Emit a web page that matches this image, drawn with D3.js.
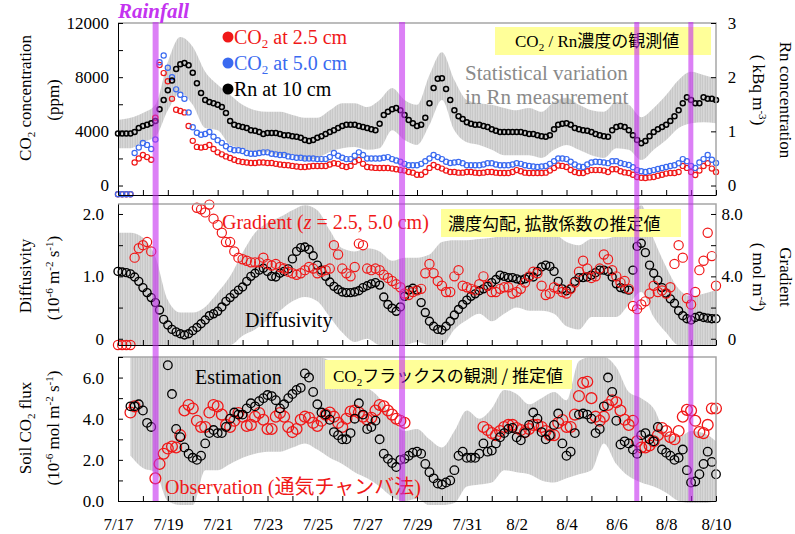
<!DOCTYPE html>
<html>
<head>
<meta charset="utf-8">
<script src="https://cdn.jsdelivr.net/npm/d3@7/dist/d3.min.js"></script>
<style>
  body { margin: 0; background: #fff; }
  text { white-space: pre; }
</style>
</head>
<body>
<div id="chart"></div>
<script>
// sampling: values every 4 hours, days counted from 7/17 0:00
const step = 1 / 6;
const bandStep = 0.5;

const dateLabels = ["7/17", "7/19", "7/21", "7/23", "7/25", "7/27", "7/29",
                    "7/31", "8/2", "8/4", "8/6", "8/8", "8/10"];

// rainfall periods (days)
const rainStart = [1.39, 11.28, 20.72, 22.89];
const rainEnd   = [1.63, 11.52, 20.92, 23.09];

// CO2 (ppm), -650 = missing values drawn on the axis
const co2At25 = [-650,-650,-650,-650,1700,2000,2250,2100,1900,5000,
  8900,8300,7700,6400,5600,5500,5400,4400,3300,2850,
  2800,2850,3000,2700,2450,2300,2150,2030,1900,1800,
  1740,1700,1660,1660,1700,1700,1660,1660,1600,1550,
  1520,1500,1450,1400,1370,1370,1400,1440,1440,1440,
  1440,1550,1650,1600,1450,1370,1450,1750,1880,1600,
  1370,1330,1300,1290,1290,1290,1250,1200,1140,1100,
  1000,950,800,800,1000,1300,1510,1370,1250,1100,
  1000,1000,950,950,1000,1000,950,920,950,1000,
  1000,950,920,920,920,1000,1140,1050,950,920,
  920,920,920,950,1100,1290,1480,1450,1370,1150,
  1000,920,920,1050,1140,1140,1140,1100,1000,1200,
  1200,1050,970,920,800,630,570,550,600,630,
  720,800,880,920,920,1000,1450,1300,1000,780,
  1100,1440,1650,1250,1000];

const co2At50 = [-650,-650,-650,-650,2400,2800,3140,3000,2700,3400,
  9100,9600,8700,8000,7100,6700,6400,5400,4300,3900,
  3750,3800,3950,3600,3350,3150,2900,2700,2600,2600,
  2550,2400,2350,2350,2400,2450,2450,2350,2300,2250,
  2250,2150,2100,2050,2050,2000,2000,2000,1950,1950,
  1950,2100,2400,2200,2050,1950,1950,2200,2450,2250,
  2000,2000,2000,2000,2050,2100,1950,1850,1750,1600,
  1500,1500,1500,1600,1800,2000,2250,2100,1950,1750,
  1660,1700,1740,1650,1500,1500,1500,1500,1550,1650,
  1650,1550,1500,1500,1500,1550,1650,1600,1500,1450,
  1400,1370,1400,1440,1600,1800,2000,2000,1950,1750,
  1550,1400,1370,1550,1700,1750,1740,1700,1650,1800,
  1800,1660,1580,1510,1350,1140,1050,1000,1070,1140,
  1220,1290,1370,1440,1500,1650,1950,1800,1450,1290,
  1700,1950,2250,1900,1660];

// Rn at 10 cm (kBq m-3)
const rn10 = [0.96,0.96,0.96,0.96,0.99,1.06,1.10,1.12,1.15,1.19,
  1.41,1.58,1.76,1.94,2.15,2.24,2.26,2.22,2.08,1.89,
  1.71,1.58,1.54,1.52,1.49,1.45,1.34,1.19,1.12,1.10,
  1.08,1.06,1.02,1.01,0.99,0.95,0.97,0.97,0.97,0.95,
  0.93,0.93,0.91,0.90,0.88,0.84,0.82,0.84,0.88,0.91,
  0.95,0.99,1.02,1.06,1.10,1.12,1.12,1.12,1.10,1.08,
  1.06,1.04,1.02,1.14,1.30,1.36,1.41,1.43,1.39,1.30,
  1.21,1.15,1.10,1.12,1.25,1.52,1.80,1.97,1.98,1.78,
  1.58,1.39,1.28,1.23,1.17,1.14,1.12,1.12,1.10,1.08,
  1.04,1.01,0.99,0.99,0.99,0.99,0.99,0.99,0.97,0.95,
  0.95,0.93,0.91,0.90,0.93,1.04,1.12,1.14,1.15,1.12,
  1.06,1.04,1.02,1.01,0.99,0.95,0.93,0.91,0.90,1.02,
  1.08,1.10,1.08,1.02,0.93,0.84,0.78,0.82,0.91,0.99,
  1.04,1.08,1.12,1.19,1.28,1.39,1.52,1.63,1.58,1.52,
  1.52,1.63,1.60,1.60,1.58];

// statistical variation of Rn (12-hour steps)
const rnLow = [0.69,0.69,0.80,0.90,1.39,1.71,1.49,1.06,1.02,0.75,0.69,0.62,0.62,0.56,0.56,0.47,0.51,
  0.62,0.69,0.71,0.66,0.69,1.02,0.84,0.75,1.12,1.58,1.02,0.80,0.75,0.66,0.56,0.56,0.56,0.51,
  0.66,0.75,0.66,0.56,0.51,0.69,0.66,0.47,0.66,0.84,1.06,1.15,1.17,1.15];
const rnHigh = [1.21,1.25,1.34,1.49,2.28,2.74,2.56,2.10,1.86,1.67,1.49,1.39,1.36,1.36,1.30,1.25,1.25,
  1.39,1.52,1.52,1.45,1.58,1.80,1.58,1.49,2.04,2.46,1.95,1.58,1.52,1.49,1.43,1.39,1.43,1.36,
  1.54,1.62,1.49,1.39,1.36,1.54,1.49,1.26,1.43,1.67,1.95,2.10,2.04,1.98];

// diffusivity (10-6 m2 s-1)
const diffusivity = [1.08,1.07,1.06,1.04,0.99,0.92,0.82,0.74,0.66,0.58,
  0.46,0.31,0.22,0.15,0.11,0.08,0.06,0.08,0.13,0.18,
  0.24,0.30,0.37,0.40,0.44,0.51,0.60,0.66,0.72,0.78,
  0.83,0.92,1.00,1.05,1.10,1.13,1.08,1.00,0.99,1.05,
  1.08,1.12,1.28,1.40,1.46,1.47,1.43,1.33,1.18,1.10,
  1.00,0.91,0.84,0.79,0.75,0.74,0.74,0.75,0.77,0.82,
  0.85,0.88,0.90,0.86,0.67,0.55,0.49,0.44,0.51,0.68,
  0.78,0.81,0.78,0.58,0.42,0.28,0.20,0.15,0.14,0.20,
  0.28,0.38,0.47,0.55,0.62,0.68,0.72,0.77,0.80,0.84,
  0.90,0.95,1.02,1.00,0.98,0.98,0.96,0.94,0.96,0.99,
  0.99,1.08,1.15,1.18,1.16,1.08,0.92,0.80,0.77,0.80,
  0.92,0.98,0.98,0.99,1.02,1.06,1.10,1.10,1.08,0.99,
  0.88,0.82,0.80,0.78,1.10,1.48,1.53,1.38,1.18,1.05,
  0.94,0.82,0.73,0.64,0.57,0.45,0.37,0.32,0.30,0.34,
  0.36,0.34,0.33,0.32,0.32];

const diffLow = [-0.1,-0.1,-0.1,-0.1,-0.1,-0.1,-0.1,-0.1,-0.1,-0.1,0.05,0.15,0.30,0.45,0.60,0.67,0.60,
  0.35,0.10,-0.05,0.00,-0.1,-0.1,-0.1,-0.05,-0.1,-0.1,0.15,0.30,0.40,0.28,0.40,0.50,0.45,0.45,
  0.40,0.20,0.15,0.35,0.35,0.35,0.55,0.75,0.35,0.10,-0.1,-0.1,-0.1,-0.1];
const diffHigh = [1.70,1.70,1.62,1.31,0.62,0.42,0.42,0.51,0.74,1.00,1.38,1.70,1.86,1.95,2.06,2.14,2.06,
  1.74,1.45,1.40,1.45,1.40,1.25,1.30,1.30,1.35,1.55,1.58,1.58,1.60,1.62,1.65,1.68,1.72,1.75,
  1.70,1.55,1.50,1.60,1.60,1.65,1.90,2.14,1.60,1.15,0.80,0.68,0.72,0.78];

// concentration gradient (mol m-4), -0.4 = missing values on the axis
const gradient = [-0.4,-0.4,-0.4,-0.4,5.2,5.8,6.0,6.2,5.6,null,
  null,null,null,null,null,null,null,null,null,8.4,
  8.3,8.1,8.6,7.7,7.3,6.8,6.2,6.2,5.6,5.2,
  5.1,5.0,4.9,4.9,4.9,5.2,4.8,4.7,4.8,4.6,
  4.5,4.3,4.2,4.1,4.2,4.4,4.6,4.5,4.2,4.3,
  4.4,4.5,6.0,5.4,4.5,4.2,4.0,4.6,6.1,6.0,
  4.5,4.4,4.5,4.4,4.1,3.9,3.7,3.5,3.3,2.9,
  2.8,3.0,3.1,3.2,4.2,4.8,4.2,3.7,3.4,3.0,
  3.0,4.0,4.4,3.4,3.3,3.2,3.1,3.5,4.0,3.4,
  3.0,3.0,3.2,3.3,3.3,2.9,3.0,3.2,3.6,4.0,
  4.3,4.2,3.4,2.8,2.9,3.3,3.2,3.0,2.9,3.2,
  3.6,4.3,5.0,4.5,3.9,4.0,4.5,5.4,5.1,4.4,
  4.0,3.6,3.7,3.2,2.1,1.9,2.2,2.4,2.9,3.4,
  3.0,3.1,2.9,3.3,4.8,6.0,5.2,2.6,2.2,3.0,
  4.4,5.0,6.8,5.3,3.4];

// soil CO2 flux (10-6 mol m-2 s-1)
const fluxEst = [null,null,null,4.6,4.6,4.7,4.4,3.8,3.6,null,
  null,null,6.6,5.2,3.5,3.1,2.6,2.3,2.1,2.0,
  2.2,2.8,3.3,3.45,3.3,3.3,3.6,4.0,4.3,4.2,
  4.2,4.5,4.75,4.6,4.85,5.0,5.15,5.1,4.9,4.5,
  4.7,5.0,5.2,5.4,5.5,6.2,6.0,5.3,4.7,4.3,
  4.2,3.95,3.35,3.2,3.0,3.0,3.3,4.0,4.75,4.2,
  3.5,3.6,3.9,3.0,2.3,2.05,1.85,1.65,2.0,2.05,
  2.2,2.35,2.4,2.3,1.8,1.4,1.1,0.85,0.8,0.9,
  1.0,1.5,2.2,2.4,2.1,2.1,2.1,2.3,2.8,2.4,
  2.45,2.8,3.1,3.3,3.5,3.55,3.1,2.95,3.3,3.7,
  4.3,4.0,3.35,3.0,3.2,3.7,4.25,2.8,2.2,2.4,
  3.3,4.2,4.25,4.2,4.0,3.3,3.5,4.6,6.0,5.3,
  3.9,2.75,2.9,2.8,2.5,2.3,3.2,3.3,3.0,2.9,
  3.6,2.5,2.35,2.2,2.0,2.1,2.5,1.5,0.9,0.95,
  1.3,1.8,2.4,1.9,1.3];

// estimation band, from day 0.5 in 12-hour steps
const fluxLow = [2.2,1.6,1.4,0.0,-0.2,-0.2,1.5,1.5,1.8,2.1,2.3,2.4,2.4,2.6,2.8,2.5,2.1,1.8,1.4,1.1,
  0.7,0.2,0.0,0.1,-0.2,-0.2,-0.1,0.7,0.8,0.9,1.5,1.4,1.3,1.0,0.9,1.1,1.3,1.5,2.8,1.8,
  1.2,0.9,0.7,0.4,0.0,-0.1,-0.1,0.0];
const fluxHigh = [7.0,7.0,7.0,7.0,7.0,7.0,7.0,7.0,7.0,7.0,7.0,7.0,7.0,7.0,7.0,7.0,6.8,6.2,5.8,5.5,
  5.0,4.0,3.4,3.5,3.0,2.6,3.4,4.4,4.0,4.5,5.4,5.2,4.7,5.0,5.3,4.9,6.8,7.0,7.0,6.5,
  5.3,5.0,4.5,3.3,3.1,3.4,3.3,2.9];

const fluxObs = [null,null,null,4.3,4.6,null,null,null,null,1.1,
  1.8,2.3,2.55,2.65,2.6,3.2,4.4,4.67,4.5,3.9,
  3.6,3.6,4.3,4.67,4.6,4.2,3.7,3.6,3.9,4.28,
  4.1,3.65,3.7,4.1,4.28,3.95,3.5,3.5,4.1,4.28,
  4.1,3.6,3.35,3.5,3.95,4.1,4.05,3.8,3.65,3.9,
  4.2,4.3,4.1,3.8,3.6,4.0,4.35,4.4,4.3,4.1,
  3.95,4.05,4.4,4.67,4.6,4.4,4.2,4.0,3.9,3.8,
  null,null,null,null,null,null,null,null,null,null,
  null,null,null,null,null,null,null,null,3.6,3.45,
  3.3,3.2,3.4,3.6,3.7,3.7,3.55,3.45,3.35,3.5,
  3.7,3.7,3.6,3.4,3.2,3.2,3.8,3.94,3.6,3.6,
  4.2,5.1,5.74,5.8,5.0,4.1,3.9,4.1,4.67,4.9,
  4.8,4.4,3.95,3.7,3.9,2.9,2.6,2.6,2.7,2.9,
  3.2,3.55,3.4,3.1,3.0,3.4,4.1,4.43,4.4,3.9,
  3.35,3.3,3.7,4.5,4.5];

const SERIF = '"Liberation Serif", "Times New Roman", serif';
const JP = '"Noto Sans CJK JP", sans-serif';
const RED = "#f01818", BLUE = "#3a6af0", GRAY = "#a6a6a6";

let svg = d3.select("#chart").append("svg")
  .attr("width", 795).attr("height", 534)
  .attr("font-family", SERIF);

let defs = svg.append("defs");
let pat = defs.append("pattern").attr("id", "stripes")
  .attr("patternUnits", "userSpaceOnUse").attr("width", 5).attr("height", 8);
pat.append("rect").attr("width", 5).attr("height", 8).attr("fill", "#c8c8c8");
pat.append("rect").attr("x", 1).attr("width", 1).attr("height", 8).attr("fill", "#d6d6d6");
pat.append("rect").attr("x", 3.5).attr("width", 0.8).attr("height", 8).attr("fill", "#e6e6e6");

// scales
let x = d3.scaleLinear().domain([0, 24]).range([118, 716]);
let yCO2 = d3.scaleLinear().domain([-700, 12000]).range([195, 23]);
let yRn = d3.scaleLinear().domain([-0.175, 3]).range([195, 23]);
let yD = d3.scaleLinear().domain([-0.1, 2.16]).range([345, 204]);
let yG = d3.scaleLinear().domain([-0.4, 8.64]).range([345, 204]);
let yF = d3.scaleLinear().domain([0, 7]).range([501, 357]);

[["clipTop", 23, 195], ["clipMid", 204, 345], ["clipBot", 353, 506]].forEach(c => {
  defs.append("clipPath").attr("id", c[0]).append("rect")
    .attr("x", 118).attr("y", c[1]).attr("width", 598).attr("height", c[2] - c[1]);
});

function band(clip, t0, lo, hi, y) {
  let area = d3.area()
    .x((d, i) => x(t0 + i * bandStep))
    .y0((d, i) => y(lo[i]))
    .y1((d, i) => y(hi[i]))
    .curve(d3.curveMonotoneX);
  svg.append("path").datum(lo).attr("d", area)
    .attr("fill", "url(#stripes)").attr("clip-path", `url(#${clip})`);
}

function dots(values, y, color, r, sw) {
  let pts = values.map((v, i) => ({ t: i * step, v: v })).filter(d => d.v !== null);
  svg.append("g").selectAll("circle").data(pts).join("circle")
    .attr("cx", d => x(d.t)).attr("cy", d => y(d.v)).attr("r", r)
    .attr("fill", "none").attr("stroke", color).attr("stroke-width", sw);
}

// text with sub/superscripts and mixed fonts
function label(x0, y0, parts, size, color, rotate, anchor) {
  let t = svg.append("text").attr("x", x0).attr("y", y0)
    .attr("font-size", size).attr("fill", color || "#000");
  if (rotate) t.attr("transform", `rotate(${rotate},${x0},${y0})`);
  if (anchor) t.attr("text-anchor", anchor);
  let prev = 0;
  parts.forEach(p => {
    if (typeof p === "string") p = { t: p };
    let shift = p.sub ? size * 0.22 : p.sup ? -size * 0.38 : 0;
    let ts = t.append("tspan").text(p.t).attr("dy", shift - prev);
    if (p.sub || p.sup) ts.attr("font-size", size * 0.65);
    if (p.jp) ts.attr("font-family", JP);
    if (p.it) ts.attr("font-style", "italic");
    prev = shift;
  });
  return t;
}

// bands
band("clipTop", 0, rnLow, rnHigh, yRn);
band("clipMid", 0, diffLow, diffHigh, yD);
band("clipBot", 0.5, fluxLow, fluxHigh, yF);

// top panel
dots(co2At25, yCO2, RED, 2.6, 1.2);
dots(co2At50, yCO2, BLUE, 2.6, 1.2);
dots(rn10, yRn, "#000", 2.5, 1.5);

// middle panel
dots(diffusivity, yD, "#000", 4, 1.4);
dots(gradient, yG, RED, 4.6, 1.2);

// bottom panel
dots(fluxObs, yF, RED, 5.4, 1.3);
dots(fluxEst, yF, "#000", 4.3, 1.3);

// frames
[[23, 195], [204, 345], [357, 501]].forEach(p => {
  svg.append("path").attr("d", `M118,${p[0]}H716V${p[1]}`)
    .attr("fill", "none").attr("stroke", GRAY).attr("stroke-width", 1.5);
});

function styleAxis(g) {
  g.attr("font-size", 17).attr("font-family", SERIF);
}

// x axes
[195, 345, 501].forEach(py => {
  svg.append("g").attr("transform", `translate(0,${py})`)
    .call(d3.axisBottom(x).tickValues(d3.range(0, 25)).tickSize(-5).tickSizeOuter(0).tickFormat(""));
});
svg.append("g").attr("transform", "translate(0,501)")
  .call(d3.axisBottom(x).tickValues(d3.range(0, 25, 2)).tickSize(0).tickPadding(17)
    .tickFormat((d, i) => dateLabels[i]))
  .call(g => g.select(".domain").remove())
  .call(styleAxis);

// y axes
function leftAxis(scale, ticks, labels, fmt, pad) {
  svg.append("g").attr("transform", "translate(118,0)")
    .call(d3.axisLeft(scale).tickValues(ticks).tickSize(-5).tickSizeOuter(0).tickFormat(""));
  svg.append("g").attr("transform", "translate(118,0)")
    .call(d3.axisLeft(scale).tickValues(labels).tickSize(0).tickPadding(pad).tickFormat(fmt))
    .call(g => g.select(".domain").remove())
    .call(styleAxis);
}
function rightAxis(scale, ticks, labels, fmt) {
  svg.append("g").attr("transform", "translate(716,0)")
    .call(d3.axisRight(scale).tickValues(ticks).tickSize(-5).tickFormat(""))
    .call(g => g.select(".domain").remove());
  svg.append("g").attr("transform", "translate(716,0)")
    .call(d3.axisRight(scale).tickValues(labels).tickSize(0).tickPadding(16).tickFormat(fmt))
    .call(g => g.select(".domain").remove())
    .call(styleAxis)
    .call(g => g.selectAll("text").attr("text-anchor", "middle"));
}
let oneDec = d => d === 0 ? "0" : d.toFixed(1);

leftAxis(yCO2, d3.range(0, 12001, 2000), [0, 4000, 8000, 12000], d3.format("d"), 9);
rightAxis(yRn, [0, 1, 2, 3], [0, 1, 2, 3], d3.format("d"));
leftAxis(yD, [0, 0.5, 1, 1.5, 2], [0, 1, 2], oneDec, 14);
rightAxis(yG, [0, 2, 4, 6, 8], [0, 4, 8], oneDec);
leftAxis(yF, [0, 1, 2, 3, 4, 5, 6, 7], [0, 2, 4, 6], d => d.toFixed(1), 14);

// axis titles
label(31, 98, ["CO", { t: "2", sub: true }, " concentration"], 17, "#000", -90, "middle");
label(59, 100, ["(ppm)"], 17, "#000", -90, "middle");
label(31, 276, ["Diffusivity"], 17, "#000", -90, "middle");
label(59, 278, ["(10", { t: "-6", sup: true }, " m", { t: "-2", sup: true }, " s", { t: "-1", sup: true }, ")"], 17, "#000", -90, "middle");
label(31, 428, ["Soil CO", { t: "2", sub: true }, " flux"], 17, "#000", -90, "middle");
label(59, 428, ["(10", { t: "-6", sup: true }, " mol m", { t: "-2", sup: true }, " s", { t: "-1", sup: true }, ")"], 17, "#000", -90, "middle");
label(780, 100, ["Rn concentration"], 17, "#000", 90, "middle");
label(753, 90, ["( kBq m", { t: "-3", sup: true }, ")"], 17, "#000", 90, "middle");
label(780, 277, ["Gradient"], 17, "#000", 90, "middle");
label(753, 277, ["( mol m", { t: "-4", sup: true }, ")"], 17, "#000", 90, "middle");

// legend
let legend = [["CO", "2", " at 2.5 cm", RED, 37], ["CO", "2", " at 5.0 cm", BLUE, 63], ["Rn at 10 cm", null, null, "#000", 89]];
legend.forEach(l => {
  svg.append("circle").attr("cx", 228).attr("cy", l[4]).attr("r", 5.5).attr("fill", l[3]);
  let parts = l[1] ? [l[0], { t: l[1], sub: true }, l[2]] : [l[0]];
  label(234, l[4] + 7, parts, 20, l[3]);
});

label(465, 80, ["Statistical variation"], 21, "#8a8a8a");
label(465, 104, ["in Rn measurement"], 21, "#8a8a8a");

label(222, 229, ["Gradient (", { t: "z", it: true }, " = 2.5, 5.0 cm)"], 20, RED);
label(245, 327, ["Diffusivity"], 20, "#000");
label(195, 384, ["Estimation"], 20, "#000");
label(165, 494, ["Observation (", { t: "通気チャンバ法", jp: true }, ")"], 20, RED);

// yellow boxes
svg.append("rect").attr("x", 495).attr("y", 27).attr("width", 216).attr("height", 28).attr("fill", "#ffff99");
label(515, 47, ["CO", { t: "2", sub: true }, " / Rn", { t: "濃度の観測値", jp: true }], 17, "#000");
svg.append("rect").attr("x", 441).attr("y", 209).attr("width", 240).attr("height", 28).attr("fill", "#ffff99");
label(448, 230, [{ t: "濃度勾配, 拡散係数の推定値", jp: true }], 17, "#000");
svg.append("rect").attr("x", 325).attr("y", 360).attr("width", 247).attr("height", 29).attr("fill", "#ffff99");
label(333, 382, ["CO", { t: "2", sub: true }, { t: "フラックスの観測 / 推定値", jp: true }], 17, "#000");

// rainfall
svg.append("g").selectAll("rect").data(rainStart).join("rect")
  .attr("x", d => x(d)).attr("y", 22)
  .attr("width", (d, i) => x(rainEnd[i]) - x(d)).attr("height", 479)
  .attr("fill", "#c42cf0").attr("opacity", 0.6);
svg.append("text").attr("x", 118).attr("y", 18).text("Rainfall")
  .attr("font-size", 21).attr("font-weight", "bold").attr("font-style", "italic")
  .attr("fill", "#c433f0");
</script>
</body>
</html>
